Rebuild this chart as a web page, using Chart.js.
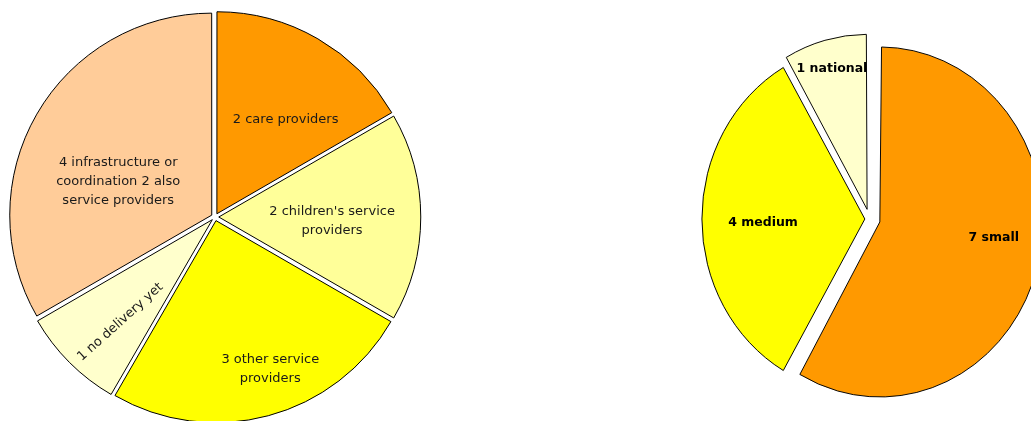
<!DOCTYPE html>
<html>
<head>
<meta charset="utf-8">
<script src="https://cdn.jsdelivr.net/npm/chart.js@4/dist/chart.umd.min.js"></script>
<style>
  html, body { margin: 0; padding: 0; background: #fff; overflow: hidden; width: 1031px; height: 421px; }
  #left { position: absolute; left: 0; top: 0; }
  #right { position: absolute; left: 700px; top: 0; }
</style>
</head>
<body>
<canvas id="left" width="430" height="434"></canvas>
<canvas id="right" width="339" height="438"></canvas>
<script>
// organisations by role
var roleLabels = [
    ['2 care providers'],
    ["2 children's service", 'providers'],
    ['3 other service', 'providers'],
    ['1 no delivery yet'],
    ['4 infrastructure or', 'coordination 2 also', 'service providers']
];
var roleCounts = [2, 2, 3, 1, 4];
var roleColors = ['#FF9900', '#FFFF99', '#FFFF00', '#FFFFCC', '#FFCC99'];

// organisations by size
var sizeLabels = [['7 small'], ['4 medium'], ['1 national']];
var sizeCounts = [7, 4, 1];
var sizeColors = ['#FF9900', '#FFFF00', '#FFFFCC'];

// where each slice label sits: share of radius, turn from mid-angle (deg), text rotation (deg)
var roleLabelRadius = [0.595, 0.58, 0.80, 0.70, 0.51];
var roleLabelTurn = [6, 2, -5, -3, -10];
var roleLabelRotate = [0, 0, 0, -42, 0];
var sizeLabelRadius = [0.77, 0.654, 0.89];
var sizeLabelTurn = [-6.9, -2, 0];
var sizeLabelRotate = [0, 0, 0];

// chart.js grows an exploded slice's radius with its offset; pull it back so all slices match
var keepRadius = {
    id: 'keepRadius',
    afterDatasetUpdate: function(chart) {
        chart.getDatasetMeta(0).data.forEach(function(arc) {
            var off = (arc.options.offset || 0) / 4;
            var fix = 1 - Math.sin(Math.min(Math.PI, arc.circumference));
            arc.outerRadius -= off * fix;
        });
    }
};

// squash the pie horizontally (sx < 1) and write the slice labels on top
function pieDecor(sx, radius, turn, rotate, font, color) {
    return {
        id: 'pieDecor',
        beforeDatasetsDraw: function(chart) {
            var arc = chart.getDatasetMeta(0).data[0];
            var ctx = chart.ctx;
            ctx.save();
            ctx.translate(arc.x, arc.y);
            ctx.scale(sx, 1);
            ctx.translate(-arc.x, -arc.y);
        },
        afterDatasetsDraw: function(chart) {
            var ctx = chart.ctx;
            ctx.restore();
            var meta = chart.getDatasetMeta(0);
            var labels = chart.data.labels;
            var R = chart.options.radius;
            ctx.save();
            ctx.font = font;
            ctx.fillStyle = color;
            ctx.textAlign = 'center';
            ctx.textBaseline = 'middle';
            meta.data.forEach(function(arc, i) {
                var a = (arc.startAngle + arc.endAngle) / 2 + turn[i] * Math.PI / 180;
                var r = R * radius[i];
                var lines = labels[i];
                var lh = 19;
                ctx.save();
                ctx.translate(arc.x + Math.cos(a) * r * sx, arc.y + Math.sin(a) * r);
                ctx.rotate(rotate[i] * Math.PI / 180);
                lines.forEach(function(t, j) {
                    ctx.fillText(t, 0, (j - (lines.length - 1) / 2) * lh);
                });
                ctx.restore();
            });
            ctx.restore();
        }
    };
}

var baseOptions = {
    responsive: false,
    animation: false,
    events: [],
    layout: { padding: 0 },
    plugins: { legend: { display: false }, tooltip: { enabled: false } }
};

new Chart(document.getElementById('left').getContext('2d'), {
    type: 'pie',
    data: {
        labels: roleLabels,
        datasets: [{
            data: roleCounts,
            backgroundColor: roleColors,
            borderColor: '#000',
            borderWidth: 1,
            borderJoinStyle: 'miter',
            offset: 15
        }]
    },
    options: Object.assign({}, baseOptions, { radius: 202 }),
    plugins: [keepRadius, pieDecor(1, roleLabelRadius, roleLabelTurn, roleLabelRotate, '13px "DejaVu Sans"', '#1a1a1a')]
});

new Chart(document.getElementById('right').getContext('2d'), {
    type: 'pie',
    data: {
        labels: sizeLabels,
        datasets: [{
            data: sizeCounts,
            backgroundColor: sizeColors,
            borderColor: '#000',
            borderWidth: 1,
            borderJoinStyle: 'miter',
            offset: [46, 20, 40]
        }]
    },
    options: Object.assign({}, baseOptions, { radius: 175 }),
    plugins: [keepRadius, pieDecor(0.931, sizeLabelRadius, sizeLabelTurn, sizeLabelRotate, 'bold 12.5px "DejaVu Sans"', '#000')]
});
</script>
</body>
</html>
